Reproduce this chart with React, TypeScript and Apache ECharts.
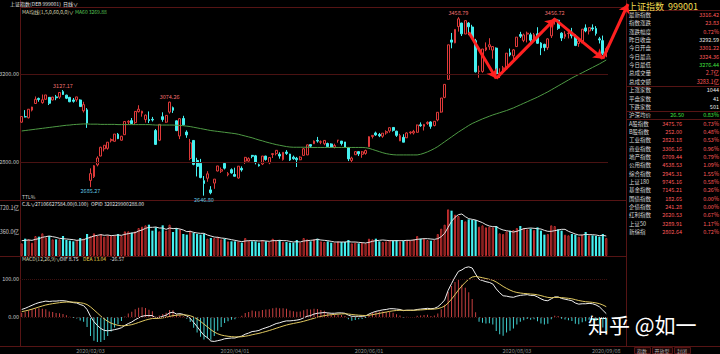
import React, { useEffect, useRef } from 'react';
import * as echarts from 'echarts';

// ---------- data ----------
const dates = [
  '2019/12/26', '2019/12/27', '2019/12/30', '2019/12/31',
  '2020/01/02', '2020/01/03', '2020/01/06', '2020/01/07', '2020/01/08', '2020/01/09', '2020/01/10', '2020/01/13', '2020/01/14', '2020/01/15', '2020/01/16', '2020/01/17', '2020/01/20', '2020/01/21', '2020/01/22', '2020/01/23',
  '2020/02/03', '2020/02/04', '2020/02/05', '2020/02/06', '2020/02/07', '2020/02/10', '2020/02/11', '2020/02/12', '2020/02/13', '2020/02/14', '2020/02/17', '2020/02/18', '2020/02/19', '2020/02/20', '2020/02/21', '2020/02/24', '2020/02/25', '2020/02/26', '2020/02/27', '2020/02/28',
  '2020/03/02', '2020/03/03', '2020/03/04', '2020/03/05', '2020/03/06', '2020/03/09', '2020/03/10', '2020/03/11', '2020/03/12', '2020/03/13', '2020/03/16', '2020/03/17', '2020/03/18', '2020/03/19', '2020/03/20', '2020/03/23', '2020/03/24', '2020/03/25', '2020/03/26', '2020/03/27', '2020/03/30', '2020/03/31',
  '2020/04/01', '2020/04/02', '2020/04/03', '2020/04/07', '2020/04/08', '2020/04/09', '2020/04/10', '2020/04/13', '2020/04/14', '2020/04/15', '2020/04/16', '2020/04/17', '2020/04/20', '2020/04/21', '2020/04/22', '2020/04/23', '2020/04/24', '2020/04/27', '2020/04/28', '2020/04/29', '2020/04/30',
  '2020/05/06', '2020/05/07', '2020/05/08', '2020/05/11', '2020/05/12', '2020/05/13', '2020/05/14', '2020/05/15', '2020/05/18', '2020/05/19', '2020/05/20', '2020/05/21', '2020/05/22', '2020/05/25', '2020/05/26', '2020/05/27', '2020/05/28', '2020/05/29',
  '2020/06/01', '2020/06/02', '2020/06/03', '2020/06/04', '2020/06/05', '2020/06/08', '2020/06/09', '2020/06/10', '2020/06/11', '2020/06/12', '2020/06/15', '2020/06/16', '2020/06/17', '2020/06/18', '2020/06/19', '2020/06/22', '2020/06/23', '2020/06/24', '2020/06/29', '2020/06/30',
  '2020/07/01', '2020/07/02', '2020/07/03', '2020/07/06', '2020/07/07', '2020/07/08', '2020/07/09', '2020/07/10', '2020/07/13', '2020/07/14', '2020/07/15', '2020/07/16', '2020/07/17', '2020/07/20', '2020/07/21', '2020/07/22', '2020/07/23', '2020/07/24', '2020/07/27', '2020/07/28', '2020/07/29', '2020/07/30', '2020/07/31',
  '2020/08/03', '2020/08/04', '2020/08/05', '2020/08/06', '2020/08/07', '2020/08/10', '2020/08/11', '2020/08/12', '2020/08/13', '2020/08/14', '2020/08/17', '2020/08/18', '2020/08/19', '2020/08/20', '2020/08/21', '2020/08/24', '2020/08/25', '2020/08/26', '2020/08/27', '2020/08/28', '2020/08/31',
  '2020/09/01', '2020/09/02', '2020/09/03', '2020/09/04', '2020/09/07', '2020/09/08',
];

// [open, close, low, high]
const ohlc = [
  [2981, 3007, 2979, 3007], [3006, 3005, 3003, 3036], [3001, 3040, 2998, 3041], [3036, 3050, 3030, 3051],
  [3066, 3085, 3066, 3098], [3089, 3084, 3074, 3093], [3070, 3083, 3065, 3107], [3085, 3105, 3084, 3105], [3094, 3067, 3059, 3095], [3082, 3095, 3080, 3096], [3096, 3092, 3081, 3105], [3095, 3116, 3087, 3116], [3120, 3107, 3105, 3127.17], [3104, 3090, 3086, 3106], [3094, 3074, 3072, 3096], [3082, 3076, 3070, 3091], [3083, 3096, 3074, 3096], [3082, 3052, 3052, 3085], [3033, 3061, 3025, 3074], [3037, 2977, 2955, 3045],
  [2716, 2747, 2685.27, 2771], [2733, 2783, 2727, 2786], [2787, 2818, 2780, 2826], [2827, 2867, 2826, 2869], [2860, 2876, 2848, 2876], [2862, 2890, 2856, 2890], [2897, 2902, 2889, 2907], [2894, 2927, 2893, 2927], [2926, 2906, 2904, 2932], [2899, 2917, 2897, 2919], [2924, 2984, 2924, 2984], [2981, 2985, 2970, 2990], [2988, 2975, 2974, 3000], [2979, 3030, 2972, 3031], [3029, 3040, 3025, 3058], [3022, 3031, 3006, 3033], [2993, 3013, 2979, 3016], [2993, 2988, 2977, 3030], [2994, 2991, 2984, 3005], [2943, 2880, 2878, 2950],
  [2899, 2971, 2895, 2972], [3006, 2993, 2983, 3026], [2981, 3012, 2978, 3012], [3027, 3072, 3020, 3074.26], [3047, 3035, 3023, 3052], [2987, 2943, 2940, 2989], [2918, 2997, 2904, 3000], [2998, 2969, 2966, 3010], [2936, 2923, 2910, 2944], [2816, 2887, 2808, 2905], [2898, 2789, 2785, 2899], [2807, 2780, 2734, 2819], [2794, 2729, 2726, 2814], [2715, 2702, 2646.8, 2736], [2726, 2746, 2710, 2758], [2673, 2660, 2653, 2690], [2704, 2722, 2678, 2722], [2759, 2782, 2757, 2782], [2758, 2765, 2750, 2775], [2793, 2772, 2766, 2797], [2742, 2747, 2735, 2754], [2765, 2750, 2747, 2771],
  [2743, 2735, 2734, 2774], [2727, 2781, 2724, 2781], [2771, 2764, 2756, 2780], [2804, 2821, 2791, 2823], [2804, 2815, 2801, 2821], [2830, 2826, 2817, 2832], [2828, 2797, 2789, 2832], [2787, 2783, 2779, 2792], [2791, 2827, 2786, 2827], [2827, 2811, 2806, 2828], [2796, 2820, 2790, 2820], [2834, 2838, 2818, 2840], [2838, 2853, 2830, 2853], [2835, 2827, 2815, 2844], [2811, 2844, 2806, 2844], [2845, 2839, 2832, 2854], [2836, 2809, 2805, 2837], [2822, 2815, 2810, 2829], [2817, 2810, 2777, 2823], [2810, 2822, 2808, 2826], [2830, 2860, 2829, 2864],
  [2832, 2878, 2832, 2878], [2879, 2872, 2864, 2880], [2883, 2895, 2882, 2898], [2898, 2895, 2888, 2914], [2890, 2892, 2881, 2898], [2883, 2898, 2876, 2898], [2884, 2870, 2869, 2888], [2882, 2868, 2864, 2885], [2867, 2875, 2862, 2883], [2899, 2899, 2888, 2900], [2895, 2884, 2875, 2895], [2891, 2868, 2866, 2891], [2866, 2814, 2804, 2866], [2807, 2818, 2799, 2824], [2833, 2847, 2833, 2848], [2847, 2837, 2827, 2848], [2835, 2846, 2819, 2850], [2839, 2852, 2833, 2856],
  [2869, 2915, 2869, 2917], [2916, 2921, 2907, 2922], [2932, 2923, 2919, 2938], [2925, 2919, 2913, 2932], [2917, 2931, 2910, 2931], [2932, 2938, 2924, 2944], [2941, 2956, 2933, 2956], [2957, 2944, 2938, 2958], [2940, 2921, 2914, 2942], [2896, 2920, 2895, 2928], [2912, 2890, 2890, 2926], [2910, 2932, 2909, 2935], [2933, 2936, 2926, 2939], [2932, 2939, 2925, 2946], [2935, 2968, 2934, 2970], [2969, 2965, 2960, 2980], [2962, 2971, 2943, 2973], [2975, 2980, 2968, 2985], [2982, 2962, 2951, 2985], [2966, 2985, 2962, 2986],
  [2991, 3026, 2985, 3026], [3027, 3091, 3024, 3091], [3094, 3153, 3090, 3153], [3176, 3333, 3173, 3333], [3355, 3345, 3317, 3387], [3342, 3403, 3340, 3403], [3416, 3451, 3393, 3458.79], [3432, 3383, 3373, 3433], [3382, 3443, 3382, 3443], [3432, 3415, 3377, 3436], [3414, 3361, 3361, 3424], [3352, 3210, 3207, 3360], [3212, 3214, 3183, 3238], [3212, 3314, 3206, 3314], [3310, 3321, 3304, 3344], [3324, 3333, 3310, 3363], [3309, 3325, 3270, 3327], [3318, 3197, 3191, 3321], [3196, 3205, 3182, 3226], [3224, 3228, 3205, 3237], [3224, 3295, 3221, 3295], [3297, 3287, 3280, 3316], [3283, 3310, 3268, 3314],
  [3325, 3368, 3324, 3368], [3380, 3372, 3364, 3392], [3353, 3378, 3345, 3384], [3382, 3386, 3344, 3393], [3379, 3354, 3338, 3388], [3351, 3379, 3351, 3387], [3383, 3340, 3337, 3413], [3341, 3319, 3286, 3345], [3335, 3321, 3304, 3338], [3320, 3360, 3310, 3363], [3374, 3439, 3364, 3442], [3440, 3451, 3425, 3456.72], [3445, 3408, 3401, 3448], [3386, 3364, 3350, 3390], [3370, 3381, 3360, 3395], [3384, 3386, 3362, 3397], [3391, 3374, 3362, 3410], [3371, 3330, 3327, 3380], [3339, 3350, 3324, 3362], [3350, 3404, 3340, 3404], [3410, 3396, 3390, 3426],
  [3396, 3411, 3380, 3412], [3410, 3405, 3396, 3426], [3407, 3385, 3375, 3418], [3360, 3355, 3339, 3369], [3352, 3293, 3286, 3375], [3301.22, 3316.42, 3276.44, 3324.36],
];

// 成交量 (亿股)
const volumes = [
  190, 260, 250, 200,
  300, 290, 340, 280, 300, 250, 250, 250, 300, 240, 230, 220, 240, 270, 260, 330,
  300, 340, 300, 330, 290, 310, 300, 310, 330, 300, 370, 370, 350, 370, 420, 440, 460, 470, 380, 430,
  370, 460, 380, 470, 360, 420, 400, 330, 320, 380, 350, 330, 320, 330, 260, 270, 270, 290, 250, 260, 220, 220,
  220, 220, 200, 270, 230, 220, 220, 200, 240, 220, 210, 260, 230, 240, 210, 210, 200, 200, 240, 200, 270,
  250, 220, 250, 260, 220, 210, 220, 200, 200, 220, 210, 210, 240, 190, 200, 190, 200, 190,
  260, 250, 260, 220, 210, 220, 240, 230, 240, 220, 230, 240, 230, 250, 300, 260, 260, 240, 230, 240,
  330, 410, 470, 700, 680, 620, 600, 540, 520, 550, 540, 540, 440, 460, 430, 440, 430, 450, 340, 330, 370, 380, 390,
  420, 450, 420, 400, 410, 390, 430, 380, 320, 330, 460, 450, 400, 380, 320, 310, 330, 320, 290, 320, 360,
  310, 310, 300, 290, 330, 271,
];

const volumeLine = [
  230, 235, 240, 235,
  250, 260, 280, 290, 300, 290, 280, 265, 260, 255, 250, 245, 235, 240, 245, 265,
  280, 300, 310, 320, 310, 315, 305, 310, 315, 310, 325, 335, 345, 350, 375, 390, 415, 430, 430, 435,
  420, 420, 400, 420, 410, 415, 405, 390, 365, 370, 355, 345, 340, 340, 315, 300, 285, 280, 270, 265, 255, 245,
  235, 225, 215, 225, 230, 230, 230, 225, 230, 225, 220, 230, 230, 235, 230, 230, 220, 210, 215, 210, 225,
  230, 235, 240, 250, 240, 235, 230, 220, 210, 210, 210, 210, 215, 210, 210, 205, 200, 195,
  205, 220, 230, 235, 240, 235, 230, 230, 230, 230, 230, 235, 235, 240, 250, 255, 260, 260, 255, 250,
  260, 290, 340, 430, 520, 580, 620, 630, 590, 560, 550, 540, 520, 500, 470, 450, 440, 440, 410, 390, 380, 370, 360,
  370, 390, 410, 415, 420, 415, 410, 405, 385, 370, 370, 380, 390, 400, 400, 370, 350, 330, 315, 315, 325,
  320, 320, 315, 305, 310, 300,
];

const ma60 = [
  2941, 2943, 2945, 2947,
  2949, 2951, 2953, 2955, 2957, 2959, 2961, 2963, 2965, 2967, 2968, 2970, 2971, 2972, 2973, 2973,
  2972, 2972, 2972, 2971, 2971, 2971, 2971, 2971, 2970, 2970, 2970, 2970, 2970, 2970, 2970, 2970, 2970, 2970, 2969, 2968,
  2968, 2968, 2968, 2968, 2968, 2967, 2966, 2965, 2963, 2961, 2958, 2955, 2952, 2949, 2946, 2943, 2941, 2939, 2937, 2935, 2933, 2931,
  2929, 2926, 2922, 2918, 2914, 2910, 2905, 2900, 2896, 2891, 2887, 2883, 2879, 2876, 2873, 2870, 2868, 2867, 2867, 2867, 2867,
  2867, 2866, 2866, 2866, 2866, 2866, 2866, 2866, 2866, 2866, 2866, 2866, 2866, 2866, 2866, 2866, 2866, 2865,
  2862, 2857, 2852, 2847, 2842, 2838, 2835, 2833, 2832, 2832, 2832, 2832, 2832, 2832, 2832, 2835, 2840, 2846, 2853, 2861,
  2870, 2881, 2892, 2903, 2914, 2925, 2936, 2946, 2956, 2966, 2975, 2982, 2989, 2996, 3002, 3008, 3014, 3019, 3024, 3029, 3034, 3040, 3046,
  3053, 3060, 3067, 3074, 3081, 3088, 3095, 3103, 3111, 3119, 3128, 3137, 3146, 3155, 3164, 3173, 3182, 3190, 3198, 3206, 3214,
  3222, 3230, 3238, 3246, 3255, 3264,
];

const dif = [
  20, 23, 27, 31,
  35, 38, 40, 42, 41, 42, 42, 43, 43, 42, 40, 38, 37, 33, 30, 20,
  2, -12, -22, -30, -35, -36, -35, -33, -31, -28, -22, -17, -13, -7, -2, 2, 4, 4, 4, -3,
  -1, 2, 5, 11, 13, 8, 9, 7, 3, -3, -14, -25, -37, -48, -54, -63, -64, -62, -60, -57, -56, -55,
  -55, -52, -50, -45, -42, -38, -37, -35, -31, -28, -25, -21, -17, -15, -12, -10, -10, -9, -8, -6, -2,
  2, 4, 8, 10, 11, 12, 11, 10, 10, 11, 11, 10, 5, 2, 2, 2, 2, 3,
  8, 12, 15, 17, 19, 20, 22, 22, 21, 20, 17, 18, 18, 18, 20, 21, 22, 23, 22, 23,
  27, 35, 45, 70, 88, 105, 120, 124, 130, 132, 129, 113, 99, 96, 93, 91, 87, 74, 64, 56, 55, 53, 52,
  55, 57, 58, 59, 57, 57, 53, 48, 44, 43, 48, 53, 53, 49, 47, 45, 43, 37, 34, 35, 35,
  36, 35, 32, 27, 18, 9,
];

const dea = [
  14.4, 16.1, 18.3, 20.8,
  23.6, 26.5, 29.2, 31.8, 33.6, 35.3, 36.6, 37.9, 38.9, 39.5, 39.6, 39.3, 38.8, 37.6, 36.1, 32.9,
  26.7, 19.0, 10.8, 2.6, -4.9, -11.1, -15.9, -19.3, -21.6, -22.9, -22.7, -21.6, -19.9, -17.3, -14.2, -11.0, -8.0, -5.6, -3.7, -3.6,
  -3.1, -2.1, -0.7, 1.6, 3.9, 4.7, 5.6, 5.9, 5.3, 3.6, 0.1, -4.9, -11.3, -18.6, -25.7, -33.2, -39.3, -43.9, -47.1, -49.1, -50.5, -51.4,
  -52.1, -52.1, -51.7, -50.3, -48.7, -46.5, -44.6, -42.7, -40.4, -37.9, -35.3, -32.5, -29.4, -26.5, -23.6, -20.9, -18.7, -16.8, -15.0, -13.2, -11.0,
  -8.4, -5.9, -3.1, -0.5, 1.8, 3.8, 5.2, 6.2, 7.0, 7.8, 8.4, 8.7, 8.0, 6.8, 5.8, 5.0, 4.4, 4.1,
  4.9, 6.3, 8.0, 9.8, 11.6, 13.3, 15.0, 16.4, 17.3, 17.8, 17.7, 17.7, 17.8, 17.8, 18.3, 18.8, 19.4, 20.1, 20.5, 21.0,
  22.2, 24.8, 28.8, 37.0, 47.2, 58.8, 71.0, 81.6, 91.3, 99.4, 105.3, 106.8, 105.3, 103.4, 101.3, 99.2, 96.8, 92.2, 86.6, 80.5, 75.4, 70.9, 67.1,
  64.7, 63.2, 62.1, 61.5, 60.6, 59.9, 58.5, 56.4, 53.9, 51.7, 51.0, 51.4, 51.7, 51.2, 50.3, 49.3, 48.0, 45.8, 43.5, 41.8, 40.4,
  39.6, 38.7, 37.3, 35.3, 31.8, 27.3,
];

const macdHist = [
  11.2, 13.8, 17.4, 20.4,
  22.8, 23, 21.6, 20.4, 14.8, 13.4, 10.8, 10.2, 8.2, 5, 0.8, -2.6, -3.6, -9.2, -12.2, -25.8,
  -49.4, -62, -65.6, -65.2, -60.2, -49.8, -38.2, -27.4, -18.8, -10.2, 1.4, 9.2, 13.8, 20.6, 24.4, 26, 24, 19.2, 15.4, 1.2,
  4.2, 8.2, 11.4, 18.8, 18.2, 6.6, 6.8, 2.2, -4.6, -13.2, -28.2, -40.2, -51.4, -58.8, -56.6, -59.6, -49.4, -36.2, -25.8, -15.8, -11, -7.2,
  -5.8, 0.2, 3.4, 10.6, 13.4, 17, 15.2, 15.4, 18.8, 19.8, 20.6, 23, 24.8, 23, 23.2, 21.8, 17.4, 15.6, 14, 14.4, 18,
  20.8, 19.8, 22.2, 21, 18.4, 16.4, 11.6, 7.6, 6, 6.4, 5.2, 2.6, -6, -9.6, -7.6, -6, -4.8, -2.2,
  6.2, 11.4, 14, 14.4, 14.8, 13.4, 14, 11.2, 7.4, 4.4, -1.4, 0.6, 0.4, 0.4, 3.4, 4.4, 5.2, 5.8, 3, 4,
  9.6, 20.4, 32.4, 66, 81.6, 92.4, 98, 84.8, 77.4, 65.2, 47.4, 12.4, -12.6, -14.8, -16.6, -16.4, -19.6, -36.4, -45.2, -49, -40.8, -35.8, -30.2,
  -19.4, -12.4, -8.2, -5, -7.2, -5.8, -11, -16.8, -19.8, -17.4, -6, 3.2, 2.6, -4.4, -6.6, -8.6, -10, -17.6, -19, -13.6, -10.8,
  -7.2, -7.4, -10.6, -16.6, -27.6, -36.6,
];

const priceLevels = [3200, 2800];
const volumeLevels = [360, 720.1];
const macdLevels = [100, 0];
const axisDates = ['2020/02/03', '2020/04/01', '2020/06/01', '2020/08/03', '2020/09/08'];
const extremes = [
  { date: '2020/01/14', price: 3127.17, pos: 'top', up: true },
  { date: '2020/03/05', price: 3074.26, pos: 'top', up: true },
  { date: '2020/02/03', price: 2685.27, pos: 'bottom', up: false },
  { date: '2020/03/19', price: 2646.8, pos: 'bottom', up: false },
  { date: '2020/07/09', price: 3458.79, pos: 'top', up: true },
  { date: '2020/08/18', price: 3456.72, pos: 'top', up: true },
];
const arrowPath: [string, number][] = [
  ['2020/07/14', 3390], ['2020/07/24', 3180], ['2020/08/18', 3450], ['2020/09/07', 3270],
];

const quoteRows = [
  ['最新指数', '3316.42', 'r'], ['指数涨跌', '23.83', 'r'], ['涨跌幅度', '0.72%', 'r'],
  ['昨日收盘', '3292.59', 'w'], ['今日开盘', '3301.22', 'r'], ['今日最高', '3324.36', 'r'],
  ['今日最低', '3276.44', 'g'], ['总成交量', '2.7亿', 'r'], ['总成交额', '3283.1亿', 'r'],
  ['上涨家数', '1044', 'w'], ['平盘家数', '41', 'w'], ['下跌家数', '501', 'w'],
];
const avgRow = ['沪深均价', '26.50', '0.83%'];
const indexRows = [
  ['A股指数', '3475.76', '0.73%'], ['B股指数', '252.00', '0.48%'], ['工业指数', '2823.18', '0.53%'],
  ['商业指数', '3306.16', '0.96%'], ['地产指数', '6709.44', '0.79%'], ['公用指数', '4538.53', '1.09%'],
  ['综合指数', '2945.31', '1.55%'], ['上证180', '9745.16', '0.58%'], ['基金指数', '7145.21', '0.26%'],
  ['国债指数', '182.65', '0.00%'], ['企债指数', '241.28', '0.00%'], ['红利指数', '2620.53', '0.67%'],
  ['上证50', '3289.91', '1.17%'], ['新综指', '2802.64', '0.72%'],
];

// ---------- styles ----------
const FF = '"Noto Sans CJK SC", "DejaVu Sans", sans-serif';
const RED = '#e03a3a';
const CYAN = '#45f0f0';
const GRIDC = '#561414';
const LEVELC = '#4a1212';
const MA_C = '#4e9a44';
const ARROW = '#ff2020';
const YELLOW = '#f0dc50';
const VAL = { r: '#ff5a5a', w: '#e8e8e8', g: '#40e040' } as Record<string, string>;

function gl(x1: number, y1: number, x2: number, y2: number) {
  return { type: 'line', silent: true, shape: { x1, y1, x2, y2 }, style: { stroke: GRIDC, lineWidth: 1 } };
}
function gt(x: number, y: number, text: string, fill: string, size: number, align = 'left', weight = 'normal') {
  return {
    type: 'text', silent: true, x, y,
    style: { text, fill, fontSize: size, fontFamily: FF, fontWeight: weight, align, verticalAlign: 'middle' },
  };
}

export default function App() {
  const ref = useRef<HTMLDivElement>(null);

  useEffect(() => {
    const el = ref.current;
    if (!el) return;
    const chart = echarts.init(el, undefined, { renderer: 'svg' });

    const volData = volumes.map((v, i) => ({
      value: v,
      itemStyle: ohlc[i][1] >= ohlc[i][0]
        ? { color: 'rgba(0,0,0,0)', borderColor: '#c83030', borderWidth: 1 }
        : { color: CYAN, borderColor: CYAN, borderWidth: 0 },
    }));
    const histData = macdHist.map((v) => ({ value: v, itemStyle: { color: v >= 0 ? '#c84040' : '#40d0d0' } }));

    const graphic: any[] = [
      gl(20.5, 0, 20.5, 346),
      gl(626.5, 0, 626.5, 346),
      gl(20, 7.5, 626, 7.5),
      gl(0, 200.5, 626, 200.5),
      gl(0, 256.5, 626, 256.5),
      gl(0, 346.5, 720, 346.5),
      gl(626, 10.5, 720, 10.5),
      gl(626, 86.5, 720, 86.5),
      gl(626, 111.5, 720, 111.5),
      gl(626, 119.5, 720, 119.5),
      // header texts
      gt(10, 3.5, '上证指数(DEB 999001)', '#e6e6e6', 5),
      gt(63, 3.5, '日线∨', '#e6e6e6', 5),
      gt(22, 11, 'MA均线(1,5,0,60,0,0)∨', '#d8d8b4', 5),
      gt(75, 11, 'MA60 3269.88', '#58c858', 5),
      gt(22, 196.5, 'TTL%', '#d0d0d0', 5),
      gt(22, 203.5, 'CJL∨', '#e6e6e6', 5),
      gt(35, 203.5, '27106627584.00(0.100)', '#e6e6e6', 5),
      gt(91, 203.5, 'OPID 320229900288.00', '#e6e6e6', 5),
      gt(22, 258.5, 'MACD(12,26,9)∨', '#d8d8b4', 5),
      gt(60, 258.5, 'DIF 8.75', '#eeeeee', 5),
      gt(83, 258.5, 'DEA 13.04', YELLOW, 5),
      gt(110, 258.5, '-26.57', '#d8d8d8', 5),
      // right panel
      gt(628, 6, '上证指数  999001', YELLOW, 9),
      // watermark
      gt(588, 324, '知乎 @如一', '#ffffff', 21),
    ];
    const rowY = (k: number) => 15 + k * 8.35;
    quoteRows.forEach((r, k) => {
      graphic.push(gt(629, rowY(k), r[0], '#d8d8d8', 5.5));
      graphic.push(gt(719, rowY(k), r[1], VAL[r[2]], 5.5, 'right'));
    });
    graphic.push(gt(629, rowY(12), avgRow[0], '#d8d8d8', 5.5));
    graphic.push(gt(684, rowY(12), avgRow[1], '#40e040', 5.5, 'right'));
    graphic.push(gt(719, rowY(12), avgRow[2], '#40e040', 5.5, 'right'));
    indexRows.forEach((r, k) => {
      graphic.push(gt(629, rowY(13 + k), r[0], '#d8d8d8', 5.5));
      graphic.push(gt(682, rowY(13 + k), r[1], '#ff5a5a', 5.5, 'right'));
      graphic.push(gt(719, rowY(13 + k), r[2], '#ff5a5a', 5.5, 'right'));
    });
    // tabs
    [['指数', 634, 16], ['开放型', 652, 20], ['封闭', 674, 16]].forEach((t: any) => {
      graphic.push({ type: 'rect', silent: true, shape: { x: t[1] + 0.5, y: 347.5, width: t[2], height: 6 }, style: { fill: '#1a0606', stroke: GRIDC, lineWidth: 1 } });
      graphic.push(gt(t[1] + t[2] / 2, 350.5, t[0], '#b0b0b0', 5, 'center'));
    });

    const levelLabel = { show: true, position: 'start', distance: 1, fontSize: 5.5, color: '#c8c8c8', fontFamily: FF };

    const catAxis = (gridIndex: number, showLabel: boolean) => ({
      type: 'category', gridIndex, data: dates, boundaryGap: true,
      axisLine: { show: false }, axisTick: { show: false }, splitLine: { show: false },
      axisLabel: showLabel ? {
        show: true, fontSize: 5.5, color: '#909090', margin: 2, fontFamily: FF,
        interval: (idx: number) => axisDates.indexOf(dates[idx]) >= 0,
      } : { show: false },
    });

    const option: any = {
      animation: false,
      backgroundColor: '#000',
      textStyle: { fontFamily: FF },
      grid: [
        { left: 20, top: 7, width: 588, height: 193 },
        { left: 20, top: 206, width: 588, height: 50 },
        { left: 20, top: 260, width: 588, height: 86 },
      ],
      xAxis: [catAxis(0, false), catAxis(1, false), catAxis(2, true)],
      yAxis: [
        { type: 'value', gridIndex: 0, min: 2627, max: 3505, show: false },
        { type: 'value', gridIndex: 1, min: 0, max: 750, show: false },
        { type: 'value', gridIndex: 2, min: -76, max: 150, show: false },
      ],
      series: [
        {
          type: 'candlestick', xAxisIndex: 0, yAxisIndex: 0, data: ohlc, barWidth: '68%', silent: true,
          itemStyle: { color: 'rgba(0,0,0,0)', color0: CYAN, borderColor: RED, borderColor0: CYAN, borderWidth: 1 },
          markLine: {
            silent: true, symbol: ['none', 'none'], animation: false,
            lineStyle: { color: LEVELC, width: 1, type: 'solid' },
            label: levelLabel,
            data: priceLevels.map((p) => ({ yAxis: p, label: { ...levelLabel, formatter: p.toFixed(2) } })),
          },
          markPoint: {
            silent: true, symbol: 'circle', symbolSize: 1, itemStyle: { color: 'rgba(0,0,0,0)' },
            data: extremes.map((e) => ({
              coord: [e.date, e.price],
              label: {
                show: true, position: e.pos, distance: 1, fontSize: 5.5, fontFamily: FF,
                color: e.up ? '#f07070' : '#60c8e0', formatter: e.price.toFixed(2),
              },
            })),
          },
        },
        {
          type: 'line', xAxisIndex: 0, yAxisIndex: 0, data: ma60, symbol: 'none', silent: true, clip: false,
          lineStyle: { color: MA_C, width: 1 },
          markLine: {
            silent: true, animation: false, symbol: ['none', 'arrow'], symbolSize: 9,
            lineStyle: { color: ARROW, width: 3, type: 'solid' },
            itemStyle: { color: ARROW },
            label: { show: false },
            emphasis: { disabled: true },
            data: [
              ...arrowPath.slice(0, -1).map((p, i) => [
                { coord: p }, { coord: arrowPath[i + 1] },
              ]),
              [{ coord: arrowPath[arrowPath.length - 1] }, { x: 628, y: 4 }],
            ],
          },
        },
        {
          type: 'bar', xAxisIndex: 1, yAxisIndex: 1, data: volData, barWidth: '62%', silent: true,
          markLine: {
            silent: true, symbol: ['none', 'none'],
            lineStyle: { color: 'rgba(0,0,0,0)', width: 1 },
            data: volumeLevels.map((v) => ({ yAxis: v, label: { ...levelLabel, formatter: v.toFixed(1) + '亿' } })),
          },
        },
        {
          type: 'line', xAxisIndex: 1, yAxisIndex: 1, data: volumeLine, symbol: 'none', silent: true,
          lineStyle: { color: '#e4e4e4', width: 1 },
        },
        {
          type: 'bar', xAxisIndex: 2, yAxisIndex: 2, data: histData, barWidth: 1, silent: true,
          markLine: {
            silent: true, symbol: ['none', 'none'],
            lineStyle: { color: '#3e1010', width: 1, type: 'dotted' },
            data: macdLevels.map((v) => ({ yAxis: v, label: { ...levelLabel, formatter: v.toFixed(2) } })),
          },
        },
        {
          type: 'line', xAxisIndex: 2, yAxisIndex: 2, data: dif, symbol: 'none', silent: true,
          lineStyle: { color: '#f0f0f0', width: 1 },
        },
        {
          type: 'line', xAxisIndex: 2, yAxisIndex: 2, data: dea, symbol: 'none', silent: true,
          lineStyle: { color: '#e0c860', width: 1 },
        },
      ],
      graphic,
    };

    chart.setOption(option);
    return () => chart.dispose();
  }, []);

  return (
    <div
      ref={ref}
      style={{ position: 'fixed', left: 0, top: 0, width: 720, height: 354, background: '#000' }}
    />
  );
}
